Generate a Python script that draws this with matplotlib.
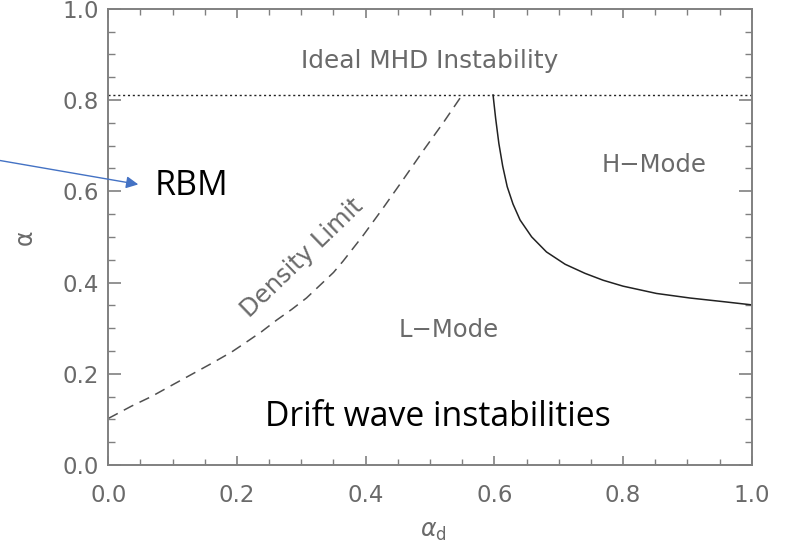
import matplotlib
matplotlib.use("Agg")
import matplotlib.pyplot as plt
from matplotlib.ticker import MultipleLocator, FormatStrFormatter

plt.rcParams["font.family"] = ["DejaVu Sans"]

# Data
density_x = [0.000, 0.036, 0.067, 0.099, 0.130, 0.161, 0.192, 0.210, 0.238, 0.262, 0.285,
             0.308, 0.329, 0.350, 0.365, 0.396, 0.427, 0.459, 0.490, 0.521, 0.550]
density_y = [0.102, 0.129, 0.150, 0.175, 0.199, 0.223, 0.248, 0.265, 0.292, 0.318, 0.341,
             0.366, 0.394, 0.422, 0.447, 0.503, 0.563, 0.627, 0.690, 0.751, 0.811]

hmode_x = [0.598, 0.602, 0.607, 0.613, 0.620, 0.629, 0.640, 0.658, 0.681, 0.710, 0.741,
           0.769, 0.800, 0.852, 0.904, 0.956, 1.000]
hmode_y = [0.811, 0.760, 0.705, 0.655, 0.610, 0.572, 0.537, 0.500, 0.467, 0.440, 0.420,
           0.405, 0.392, 0.376, 0.366, 0.358, 0.351]

mhd_limit = 0.811

xticks = [0.0, 0.2, 0.4, 0.6, 0.8, 1.0]
yticks = [0.0, 0.2, 0.4, 0.6, 0.8, 1.0]

gray = "#6a6a6a"
spine_c = "#808080"

fig = plt.figure(figsize=(7.91, 5.45), dpi=100)
ax = fig.add_axes([108.3 / 791, 80 / 545, 643.4 / 791, 456.25 / 545])

ax.plot(density_x, density_y, color="#505050", lw=1.1, linestyle=(0, (7, 4.5)))
ax.plot(hmode_x, hmode_y, color="#222222", lw=1.1, solid_joinstyle="round")
ax.axhline(mhd_limit, color="#222222", lw=1.0, linestyle=(0, (1.5, 2.0)))

ax.set_xlim(0, 1)
ax.set_ylim(0, 1)
ax.set_xticks(xticks)
ax.set_yticks(yticks)
ax.xaxis.set_major_formatter(FormatStrFormatter("%.1f"))
ax.yaxis.set_major_formatter(FormatStrFormatter("%.1f"))
ax.xaxis.set_minor_locator(MultipleLocator(0.05))
ax.yaxis.set_minor_locator(MultipleLocator(0.05))

for s in ax.spines.values():
    s.set_color(spine_c)
    s.set_linewidth(1.4)

ax.tick_params(axis="x", which="major", direction="in", length=6.5, width=1.2,
               top=True, bottom=True, color=spine_c, labelsize=16.5, labelcolor=gray, pad=14)
ax.tick_params(axis="x", which="minor", direction="in", length=4, width=1.0,
               top=True, bottom=True, color=spine_c)
ax.tick_params(axis="y", which="major", direction="in", length=9.4, width=1.2,
               left=True, right=True, color=spine_c, labelsize=16.5, labelcolor=gray, pad=7)
ax.tick_params(axis="y", which="minor", direction="in", length=5, width=1.0,
               left=True, right=True, color=spine_c)

ax.set_ylabel("α", fontsize=17, color=gray)
ax.yaxis.set_label_coords(-0.111, 0.5)
ax.set_xlabel(r"$\alpha_{\mathrm{d}}$", fontsize=17, color=gray)
ax.xaxis.set_label_coords(0.505, -0.118)

ax.text(0.5, 0.885, "Ideal MHD Instability", fontsize=17.8, color=gray,
        ha="center", va="center")
ax.text(0.849, 0.657, "H\u2212Mode", fontsize=17.5, color=gray, ha="center", va="center")
ax.text(0.529, 0.296, "L\u2212Mode", fontsize=17.5, color=gray, ha="center", va="center")
ax.text(0.301, 0.453, "Density Limit", fontsize=17.5, color=gray, ha="center",
        va="center", rotation=44, rotation_mode="anchor")

ax.text(0.0726, 0.612, "RBM", fontsize=24.5, color="black", family="Open Sans",
        ha="left", va="center")
ax.text(0.2436, 0.105, "Drift wave instabilities", fontsize=24.3, color="black",
        family="Open Sans", ha="left", va="center")

ax.annotate("", xy=(0.0466, 0.615), xytext=(-0.175, 0.669),
            xycoords="data", textcoords="data", annotation_clip=False,
            arrowprops=dict(arrowstyle="-|>", color="#4472C4", lw=1.0,
                            mutation_scale=18, shrinkA=0, shrinkB=0))

fig.savefig("out.png", dpi=100)
